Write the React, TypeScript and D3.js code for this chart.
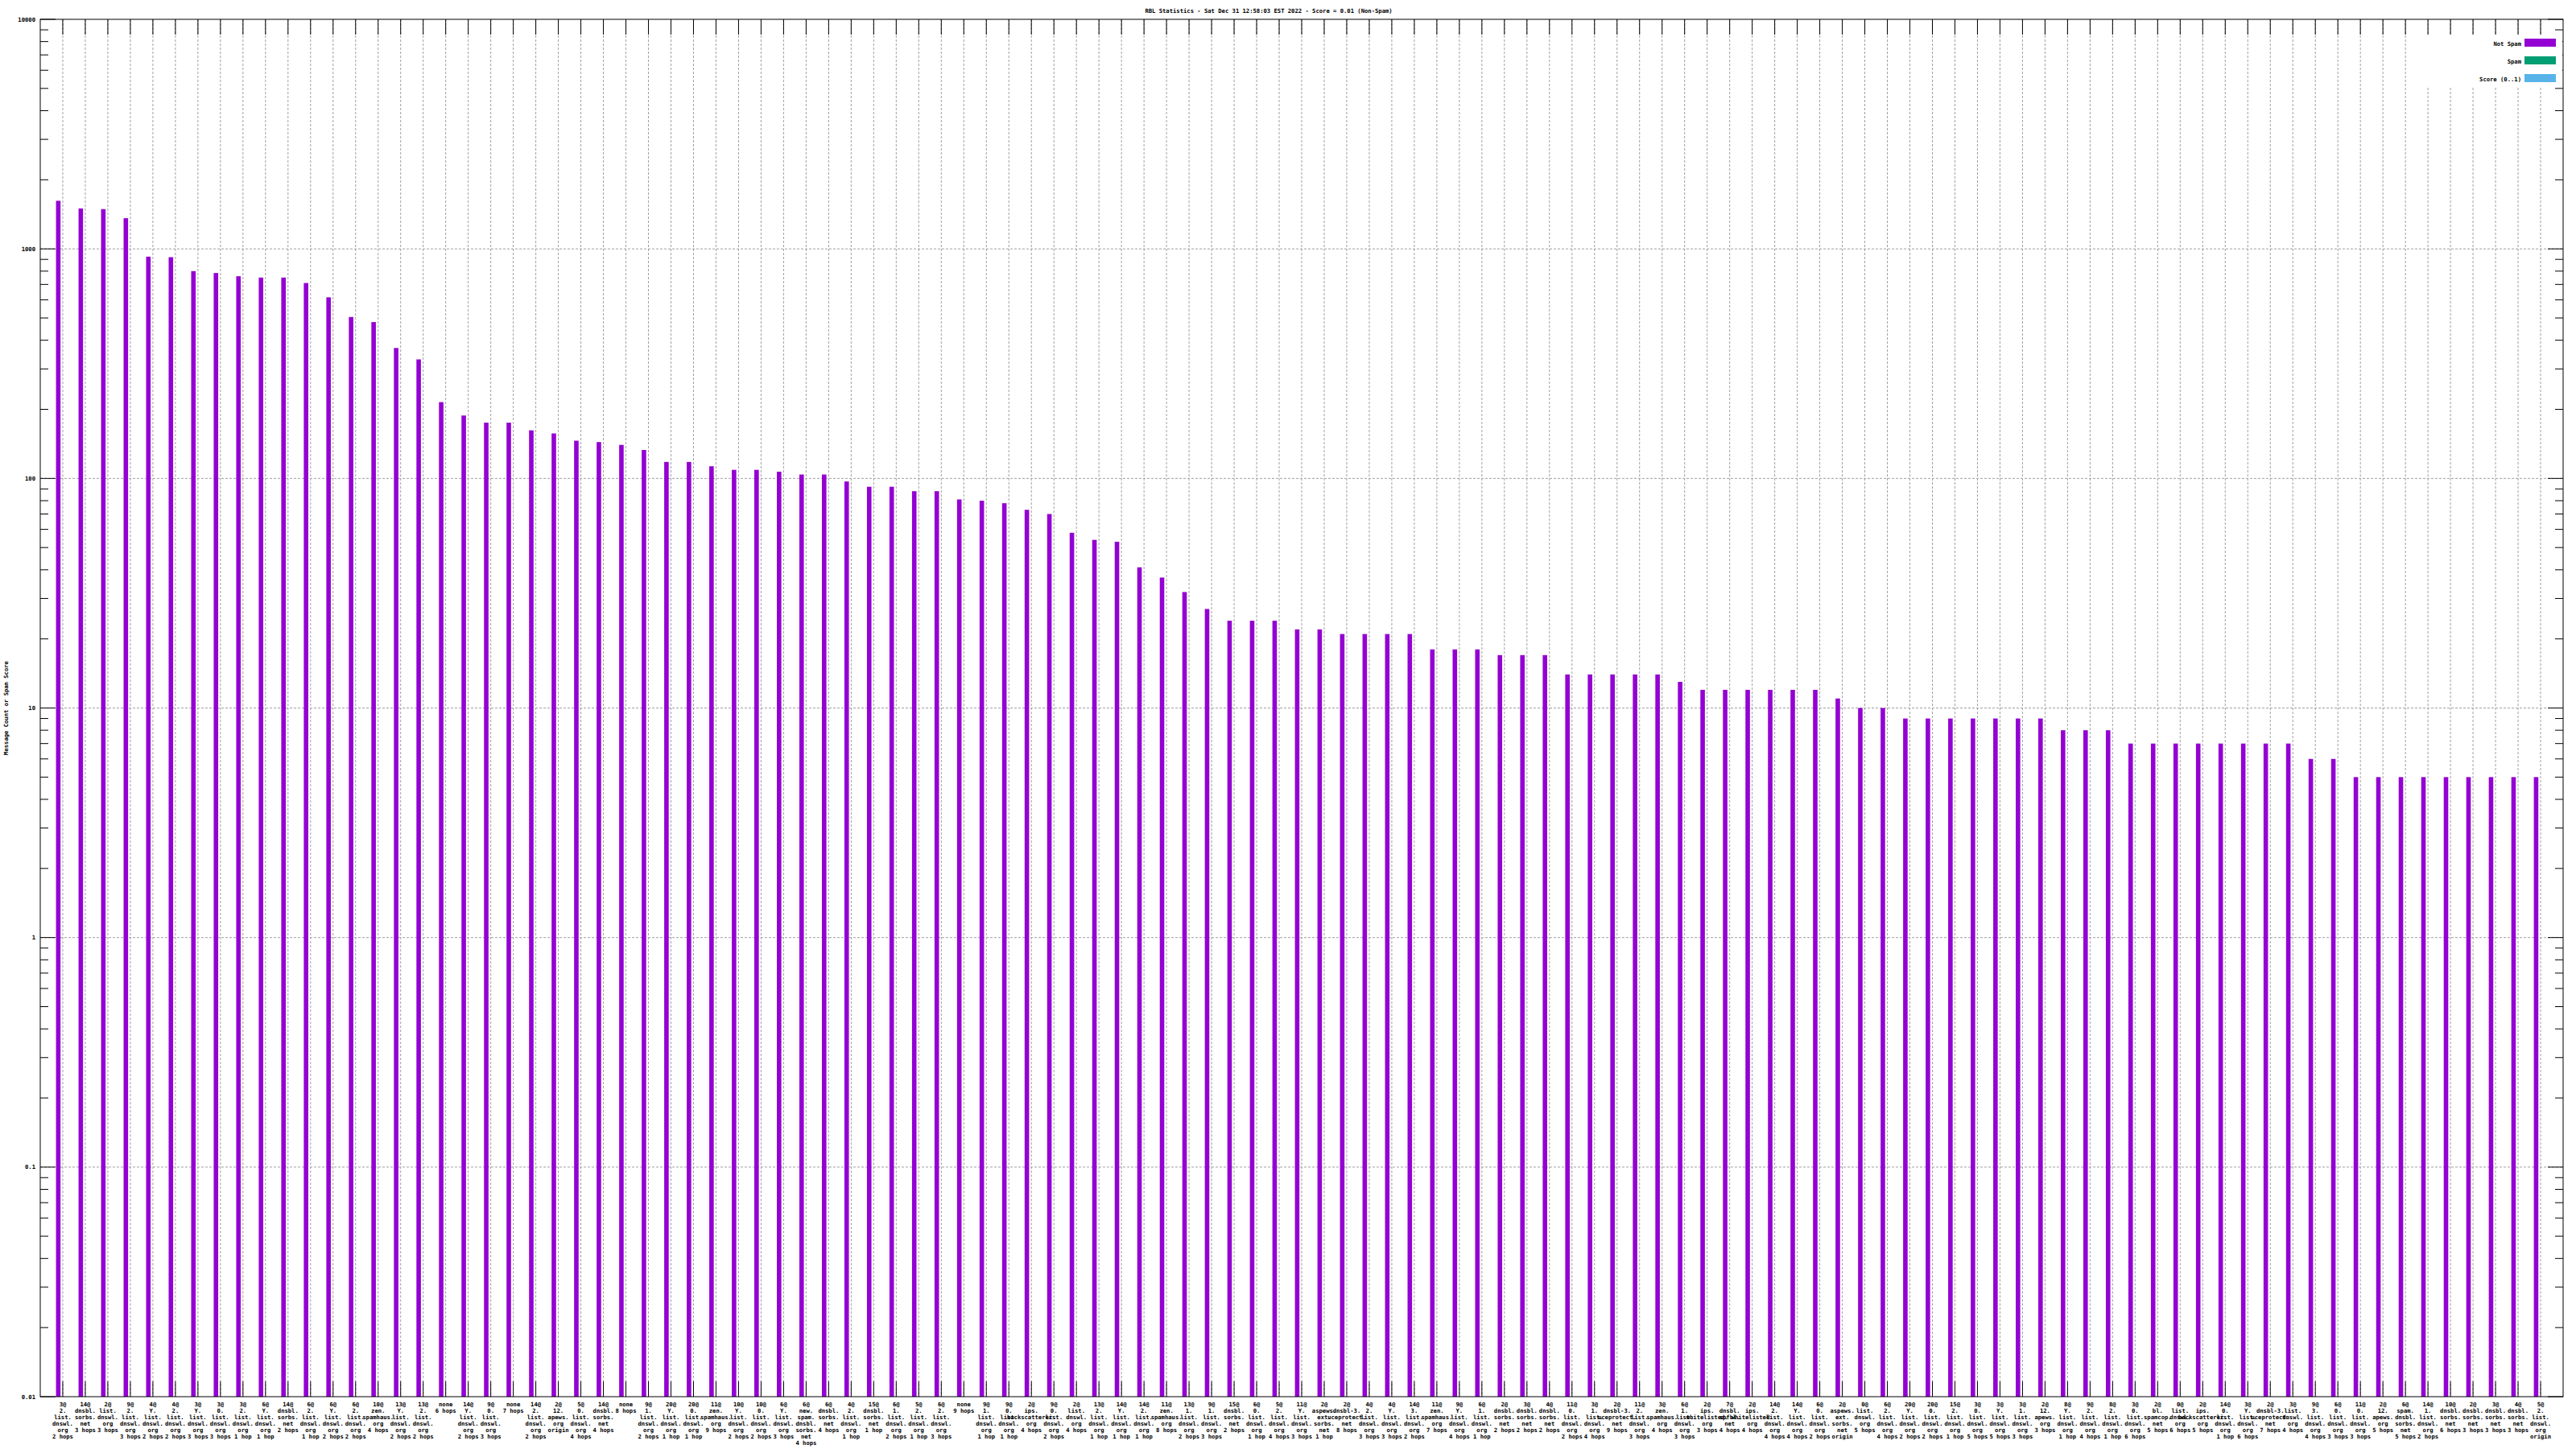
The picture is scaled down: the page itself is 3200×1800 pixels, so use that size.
import React from "react";
import * as d3 from "d3";

const TITLE = "RBL Statistics - Sat Dec 31 12:58:03 EST 2022 - Score = 0.01 (Non-Spam)";
const Y_LABEL = "Message Count or Spam Score";
const SERIES_NAMES = ["Not Spam", "Spam", "Score (0..1)"];
const SERIES_COLORS = ["#9400d3", "#009e73", "#56b4e9"];
const Y_TICKS = [0.01, 0.1, 1, 10, 100, 1000, 10000];
const Y_TICK_LABELS = ["0.01", "0.1", "1", "10", "100", "1000", "10000"];

const CATEGORIES = [
  "3@|2.|list.|dnswl.|org|2 hops",
  "14@|dnsbl.|sorbs.|net|3 hops",
  "2@|list.|dnswl.|org|3 hops",
  "9@|2.|list.|dnswl.|org|3 hops",
  "4@|Y.|list.|dnswl.|org|2 hops",
  "4@|2.|list.|dnswl.|org|2 hops",
  "3@|Y.|list.|dnswl.|org|3 hops",
  "3@|0.|list.|dnswl.|org|3 hops",
  "3@|2.|list.|dnswl.|org|1 hop",
  "6@|Y.|list.|dnswl.|org|1 hop",
  "14@|dnsbl.|sorbs.|net|2 hops",
  "6@|2.|list.|dnswl.|org|1 hop",
  "6@|Y.|list.|dnswl.|org|2 hops",
  "6@|2.|list.|dnswl.|org|2 hops",
  "10@|zen.|spamhaus.|org|4 hops",
  "13@|Y.|list.|dnswl.|org|2 hops",
  "13@|2.|list.|dnswl.|org|2 hops",
  "none|6 hops",
  "14@|Y.|list.|dnswl.|org|2 hops",
  "9@|0.|list.|dnswl.|org|3 hops",
  "none|7 hops",
  "14@|2.|list.|dnswl.|org|2 hops",
  "2@|12.|apews.|org|origin",
  "5@|0.|list.|dnswl.|org|4 hops",
  "14@|dnsbl.|sorbs.|net|4 hops",
  "none|8 hops",
  "9@|1.|list.|dnswl.|org|2 hops",
  "20@|Y.|list.|dnswl.|org|1 hop",
  "20@|0.|list.|dnswl.|org|1 hop",
  "11@|zen.|spamhaus.|org|9 hops",
  "10@|Y.|list.|dnswl.|org|2 hops",
  "10@|0.|list.|dnswl.|org|2 hops",
  "6@|Y.|list.|dnswl.|org|3 hops",
  "6@|new.|spam.|dnsbl.|sorbs.|net|4 hops",
  "6@|dnsbl.|sorbs.|net|4 hops",
  "4@|2.|list.|dnswl.|org|1 hop",
  "15@|dnsbl.|sorbs.|net|1 hop",
  "6@|1.|list.|dnswl.|org|2 hops",
  "5@|2.|list.|dnswl.|org|1 hop",
  "6@|2.|list.|dnswl.|org|3 hops",
  "none|9 hops",
  "9@|1.|list.|dnswl.|org|1 hop",
  "9@|0.|list.|dnswl.|org|1 hop",
  "2@|ips.|backscatterer.|org|4 hops",
  "9@|0.|list.|dnswl.|org|2 hops",
  "2@|list.|dnswl.|org|4 hops",
  "13@|2.|list.|dnswl.|org|1 hop",
  "14@|Y.|list.|dnswl.|org|1 hop",
  "14@|2.|list.|dnswl.|org|1 hop",
  "11@|zen.|spamhaus.|org|8 hops",
  "13@|1.|list.|dnswl.|org|2 hops",
  "9@|1.|list.|dnswl.|org|3 hops",
  "15@|dnsbl.|sorbs.|net|2 hops",
  "6@|0.|list.|dnswl.|org|1 hop",
  "5@|2.|list.|dnswl.|org|4 hops",
  "11@|Y.|list.|dnswl.|org|3 hops",
  "2@|aspews.|ext.|sorbs.|net|1 hop",
  "2@|dnsbl-3.|uceprotect.|net|8 hops",
  "4@|2.|list.|dnswl.|org|3 hops",
  "4@|Y.|list.|dnswl.|org|3 hops",
  "14@|3.|list.|dnswl.|org|2 hops",
  "11@|zen.|spamhaus.|org|7 hops",
  "9@|Y.|list.|dnswl.|org|4 hops",
  "6@|1.|list.|dnswl.|org|1 hop",
  "2@|dnsbl.|sorbs.|net|2 hops",
  "3@|dnsbl.|sorbs.|net|2 hops",
  "4@|dnsbl.|sorbs.|net|2 hops",
  "11@|0.|list.|dnswl.|org|2 hops",
  "3@|1.|list.|dnswl.|org|4 hops",
  "2@|dnsbl-3.|uceprotect.|net|9 hops",
  "11@|2.|list.|dnswl.|org|3 hops",
  "3@|zen.|spamhaus.|org|4 hops",
  "6@|1.|list.|dnswl.|org|3 hops",
  "2@|ips.|whitelisted.|org|3 hops",
  "7@|dnsbl.|spfbl.|net|4 hops",
  "2@|ips.|whitelisted.|org|4 hops",
  "14@|2.|list.|dnswl.|org|4 hops",
  "14@|Y.|list.|dnswl.|org|4 hops",
  "6@|0.|list.|dnswl.|org|2 hops",
  "2@|aspews.|ext.|sorbs.|net|origin",
  "0@|list.|dnswl.|org|5 hops",
  "6@|2.|list.|dnswl.|org|4 hops",
  "20@|Y.|list.|dnswl.|org|2 hops",
  "20@|0.|list.|dnswl.|org|2 hops",
  "15@|2.|list.|dnswl.|org|1 hop",
  "3@|0.|list.|dnswl.|org|5 hops",
  "3@|Y.|list.|dnswl.|org|5 hops",
  "3@|1.|list.|dnswl.|org|3 hops",
  "2@|12.|apews.|org|3 hops",
  "8@|Y.|list.|dnswl.|org|1 hop",
  "9@|2.|list.|dnswl.|org|4 hops",
  "8@|2.|list.|dnswl.|org|1 hop",
  "3@|0.|list.|dnswl.|org|6 hops",
  "2@|bl.|spamcop.|net|5 hops",
  "0@|list.|dnswl.|org|6 hops",
  "2@|ips.|backscatterer.|org|5 hops",
  "14@|0.|list.|dnswl.|org|1 hop",
  "3@|Y.|list.|dnswl.|org|6 hops",
  "2@|dnsbl-3.|uceprotect.|net|7 hops",
  "3@|list.|dnswl.|org|4 hops",
  "9@|3.|list.|dnswl.|org|4 hops",
  "6@|0.|list.|dnswl.|org|3 hops",
  "11@|0.|list.|dnswl.|org|3 hops",
  "2@|12.|apews.|org|5 hops",
  "6@|spam.|dnsbl.|sorbs.|net|5 hops",
  "14@|1.|list.|dnswl.|org|2 hops",
  "10@|dnsbl.|sorbs.|net|6 hops",
  "2@|dnsbl.|sorbs.|net|3 hops",
  "3@|dnsbl.|sorbs.|net|3 hops",
  "4@|dnsbl.|sorbs.|net|3 hops",
  "5@|2.|list.|dnswl.|org|origin",
];

const NOT_SPAM = [
  1620, 1500, 1490, 1360, 925, 920, 800, 785, 760, 750,
  750, 710, 615, 505, 480, 370, 330, 215, 188, 175,
  175, 162, 157, 146, 144, 140, 133, 118, 118, 113,
  109, 109, 107, 104, 104, 97, 92, 92, 88, 88,
  81, 80, 78, 73, 70, 58, 54, 53, 41, 37,
  32, 27, 24, 24, 24, 22, 22, 21, 21, 21,
  21, 18, 18, 18, 17, 17, 17, 14, 14, 14,
  14, 14, 13, 12, 12, 12, 12, 12, 12, 11,
  10, 10, 9, 9, 9, 9, 9, 9, 9, 8,
  8, 8, 7, 7, 7, 7, 7, 7, 7, 7,
  6, 6, 5, 5, 5, 5, 5, 5, 5, 5,
  5,
];
const SPAM = CATEGORIES.map(() => 0);
const SCORE = CATEGORIES.map(() => 0.01);

const FONT = "'DejaVu Sans Mono', monospace";
const FS = 7.2;

export default function App() {
  const left = 50, right = 3184, top = 24, bottom = 1735;
  const n = CATEGORIES.length;
  const x = d3.scaleLinear().domain([-1, n]).range([left, right]);
  const y = d3.scaleLog().domain([0.01, 10000]).range([bottom, top]);
  const slot = x(1) - x(0);
  const seriesVals = [NOT_SPAM, SPAM, SCORE];
  const nSeries = seriesVals.length;
  const bw = 1 / (nSeries + 2);

  const minorTicks: number[] = [];
  for (let e = -2; e < 4; e++) {
    for (let m = 2; m <= 9; m++) minorTicks.push(m * Math.pow(10, e));
  }

  return (
    <svg width={3200} height={1800} style={{ position: "absolute", left: 0, top: 0, background: "#fff" }}
      fontFamily={FONT} fontSize={FS} fontWeight="bold">
      <rect x={0} y={0} width={3200} height={1800} fill="#fff" />
      {/* grid */}
      {CATEGORIES.map((_, i) => (
        <line key={"gx" + i} x1={x(i)} x2={x(i)} y1={top} y2={bottom} stroke="#a0a0a0" strokeDasharray="3,2" />
      ))}
      {Y_TICKS.slice(1, -1).map((t) => (
        <line key={"gy" + t} x1={left} x2={right} y1={y(t)} y2={y(t)} stroke="#a0a0a0" strokeDasharray="3,2" />
      ))}
      {/* bars */}
      {seriesVals.map((vals, j) =>
        vals.map((v, i) => {
          if (!(v > 0.01)) return null;
          const cx = x(i + (j - (nSeries - 1) / 2) * bw);
          const yt = y(Math.min(v, 10000));
          return (
            <rect key={"b" + j + "_" + i} x={cx - (bw * slot) / 2} width={bw * slot}
              y={yt} height={bottom - yt} fill={SERIES_COLORS[j]} />
          );
        })
      )}
      {/* ticks */}
      {CATEGORIES.map((_, i) => (
        <g key={"tx" + i}>
          <line x1={x(i)} x2={x(i)} y1={bottom} y2={bottom - 19} stroke="#000" />
          <line x1={x(i)} x2={x(i)} y1={top} y2={top + 19} stroke="#000" />
        </g>
      ))}
      {Y_TICKS.map((t) => (
        <g key={"ty" + t}>
          <line x1={left} x2={left + 19} y1={y(t)} y2={y(t)} stroke="#000" />
          <line x1={right} x2={right - 19} y1={y(t)} y2={y(t)} stroke="#000" />
        </g>
      ))}
      {minorTicks.map((t) => (
        <g key={"my" + t}>
          <line x1={left} x2={left + 10} y1={y(t)} y2={y(t)} stroke="#000" />
          <line x1={right} x2={right - 10} y1={y(t)} y2={y(t)} stroke="#000" />
        </g>
      ))}
      {/* border */}
      <rect x={left} y={top} width={right - left} height={bottom - top} fill="none" stroke="#000" />
      {/* y tick labels */}
      {Y_TICKS.map((t, k) => (
        <text key={"yl" + t} x={44} y={y(t)} dy="0.35em" textAnchor="end" fill="#000">{Y_TICK_LABELS[k]}</text>
      ))}
      {/* x labels */}
      {CATEGORIES.map((c, i) => (
        <text key={"xl" + i} x={x(i)} y={1746.5} textAnchor="middle" fill="#000">
          {c.split("|").map((s, k) => (
            <tspan key={k} x={x(i)} y={1746.5 + k * 8}>{s}</tspan>
          ))}
        </text>
      ))}
      {/* legend */}
      <rect x={3000} y={44} width={right - 3001} height={65} fill="#fff" />
      {SERIES_NAMES.map((s, j) => (
        <g key={"lg" + j}>
          <text x={3132} y={56.7 + j * 22} textAnchor="end" fill="#000">{s}</text>
          <rect x={3136} y={48 + j * 22} width={39} height={10} fill={SERIES_COLORS[j]} />
        </g>
      ))}
      {/* title */}
      <text x={1576} y={15.5} textAnchor="middle" fill="#000">{TITLE}</text>
      {/* y label */}
      <text transform={`translate(9.5,${(top + bottom) / 2}) rotate(-90)`} textAnchor="middle" fill="#000">{Y_LABEL}</text>
    </svg>
  );
}
